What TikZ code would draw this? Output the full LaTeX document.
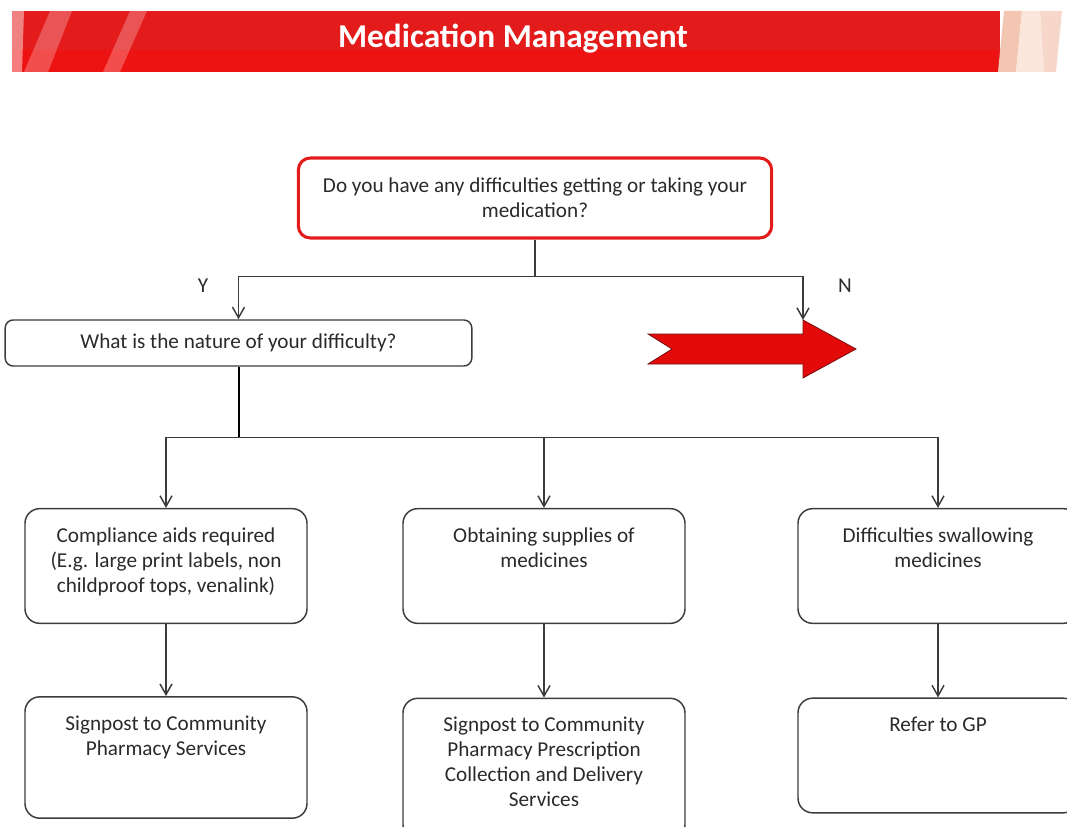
\documentclass[tikz,border=0pt]{standalone}
\usepackage{fontspec}
\setmainfont{Carlito}
\usetikzlibrary{positioning,arrows.meta}
\definecolor{barred}{HTML}{E31B1B}
\definecolor{barlow}{HTML}{EE1313}
\definecolor{arrowred}{HTML}{E30A0A}
\definecolor{darkred}{HTML}{7A1010}
\definecolor{textgrey}{HTML}{2A2A2A}
\definecolor{linegrey}{HTML}{3C3C3C}
\definecolor{peach}{HTML}{F3C6B2}
\definecolor{lightpeach}{HTML}{FBE6DC}
\begin{document}
\begin{tikzpicture}[x=0.75pt, y=-0.75pt,
    font=\fontsize{15.9}{18.75}\selectfont, text=textgrey,
    question/.style = {draw=linegrey, line width=1.1pt, rounded corners=6pt, minimum width=350pt, minimum height=34.5pt},
    box/.style = {draw=linegrey, line width=1.1pt, rounded corners=11pt, minimum width=211.5pt, minimum height=86pt},
    boxtext/.style = {align=center, inner sep=0pt, anchor=north},
    flow/.style = {draw=linegrey, line width=0.8pt, -{Straight Barb[length=8pt, width=9pt, line width=1.1pt]}},
    trunk/.style = {draw=black, line width=1.5pt}]
    \path[use as bounding box, clip] (0,0) rectangle (1067,827);

    % header bar
    \fill[barred] (12,11) rectangle (1000,72);
    \fill[barlow] (12,50) rectangle (998,72);
    \fill[white, opacity=0.45] (12,11) -- (24,11) -- (22,72) -- (12,72) -- cycle;
    \fill[white, opacity=0.25] (24,72) -- (50,11) -- (72,11) -- (48,72) -- cycle;
    \fill[white, opacity=0.25] (103,72) -- (130,11) -- (147,11) -- (120,72) -- cycle;
    \fill[peach] (998,72) -- (1004,11) -- (1022,11) -- (1016,72) -- cycle;
    \fill[lightpeach] (1022,11) -- (1040,11) -- (1044,72) -- (1016,72) -- cycle;
    \fill[peach!70] (1040,11) -- (1062,11) -- (1056,72) -- (1044,72) -- cycle;
    \node[text=white, font=\fontsize{25}{30}\selectfont\bfseries] (title) at (513,39) {Medication Management};

    % questions
    \node[question, draw=barred, line width=2.3pt, rounded corners=9pt, minimum width=355pt, minimum height=60pt, align=center] (q1) at (535,198) {Do you have any difficulties getting or taking your\\medication?};
    \node[question] (q2) at (238.5,343) {What is the nature of your difficulty?};
    \node (ylab) at (203,286) {Y};
    \node (nlab) at (845,286) {N};

    % red arrow for N
    \draw[fill=arrowred, draw=darkred, line width=0.6pt] (648,334) -- (672,349) -- (648,364) -- (803,364) -- (803,378) -- (856,349) -- (803,320) -- (803,334) -- cycle;
    \coordinate (nohead) at (803,320);

    % difficulties
    \node[box] (c1) at (166,566) {};
    \node[boxtext, below=14.5pt of c1.north] (c1text) {Compliance aids required\\(E.g. large print labels, non\\childproof tops, venalink)};
    \node[box] (c2) at (544,566) {};
    \node[boxtext, below=14.5pt of c2.north] (c2text) {Obtaining supplies of\\medicines};
    \node[box, minimum width=210pt] (c3) at (938,566) {};
    \node[boxtext, below=14.5pt of c3.north] (c3text) {Difficulties swallowing\\medicines};

    % actions
    \node[box, minimum height=91pt] (s1) at (166,757.5) {};
    \node[boxtext, below=14.5pt of s1.north] (s1text) {Signpost to Community\\Pharmacy Services};
    \node[box, minimum height=106pt] (s2) at (544,769) {};
    \node[boxtext, below=14.5pt of s2.north] (s2text) {Signpost to Community\\Pharmacy Prescription\\Collection and Delivery\\Services};
    \node[box, minimum width=210pt] (s3) at (938,755.5) {};
    \node[boxtext, below=14.5pt of s3.north] (s3text) {Refer to GP};

    % connectors
    \draw[linegrey, line width=0.8pt] (q1.south) -- ++(0,37) coordinate (fork1);
    \draw[flow] (fork1) -| (q2.north);
    \draw[flow] (fork1) -| (nohead);
    \draw[trunk] (q2.south) -- ++(0,71) coordinate (fork2);
    \draw[flow] (fork2) -| (c1.north);
    \draw[flow] (fork2) -| (c2.north);
    \draw[flow] (fork2) -| (c3.north);
    \draw[flow] (c1.south) -- (s1.north);
    \draw[flow] (c2.south) -- (s2.north);
    \draw[flow] (c3.south) -- (s3.north);
\end{tikzpicture}
\end{document}
